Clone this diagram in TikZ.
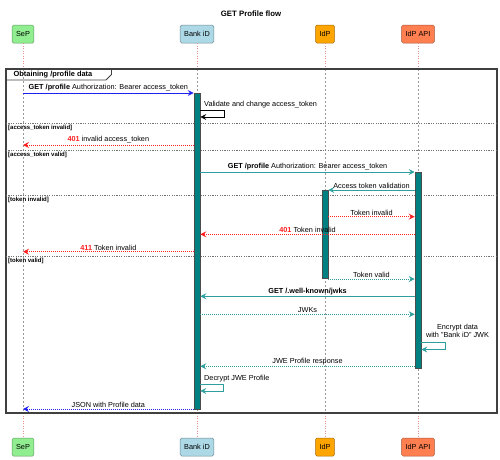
\documentclass[tikz,border=0pt]{standalone}
\usepackage{fontspec}
\setmainfont{Liberation Sans}
\usetikzlibrary{arrows.meta}
\definecolor{sepc}{HTML}{90EE90}
\definecolor{bankc}{HTML}{ADD8E6}
\definecolor{idpc}{HTML}{FFA500}
\definecolor{apic}{HTML}{FF7F50}
\definecolor{tealc}{HTML}{008080}
\definecolor{tealline}{HTML}{2E9E9E}
\definecolor{msgblue}{HTML}{2020F0}
\definecolor{msgred}{HTML}{FF2020}
\definecolor{lifepink}{HTML}{E89090}
\begin{document}
\begin{tikzpicture}[x=1pt,y=-1pt,
  font=\fontsize{7.3}{8.6}\selectfont,
  part/.style={draw=#1!65!black, fill=#1, rounded corners=1.5pt, minimum height=18pt, inner xsep=4pt, line width=0.5pt},
  act/.style={draw=black!70, fill=tealc, minimum width=6pt, inner sep=0pt, line width=0.6pt},
  lifein/.style={draw=black!40, dash pattern=on 2pt off 2pt, line width=0.6pt},
  lifeout/.style={draw=lifepink, dash pattern=on 1pt off 1.5pt, line width=0.6pt},
  tip/.style={-{Stealth[length=6pt,width=6pt,inset=2.2pt,sep=0pt]}},
  solidmsg/.style={tip, line width=0.8pt},
  dotmsg/.style={tip, line width=0.8pt, dash pattern=on 1pt off 1pt},
  lbl/.style={above, inner sep=1.2pt},
  seplbl/.style={anchor=west, font=\fontsize{6}{7}\selectfont\bfseries, inner sep=0pt},
  sepline/.style={draw=black!55, dash pattern=on 1.2pt off 1.2pt, line width=0.6pt},
  ]
\useasboundingbox (0,0) rectangle (500,459);

\node[font=\fontsize{7.8}{9}\selectfont\bfseries] (title) at (251,14) {GET Profile flow};

% participants
\node[part=sepc]  (sepT)  at (23,34)  {SeP};
\node[part=bankc] (bankT) at (197,34) {Bank iD};
\node[part=idpc]  (idpT)  at (325,34) {IdP};
\node[part=apic]  (apiT)  at (418,34) {IdP API};
\node[part=sepc]  (sepB)  at (23,447)  {SeP};
\node[part=bankc] (bankB) at (197,447) {Bank iD};
\node[part=idpc]  (idpB)  at (325,447) {IdP};
\node[part=apic]  (apiB)  at (418,447) {IdP API};

% frame corners
\coordinate (frTL) at (6,69);
\coordinate (frBR) at (497,413);

% lifelines
\foreach \p in {sep,bank,idp,api}{
  \draw[lifeout] (\p T.south) -- (\p T.south |- frTL);
  \draw[lifein] (\p T.south |- frTL) -- (\p B.north |- frBR);
  \draw[lifeout] (\p B.north |- frBR) -- (\p B.north);
}

% frame
\draw[black!75, line width=1.2pt] (frTL) rectangle (frBR);
\node[anchor=west, font=\fontsize{7.4}{8.5}\selectfont\bfseries, inner sep=0pt] (frlbl) at (13.5,74.8) {Obtaining /profile data};
\draw[black!75, line width=0.8pt] (6,80) -- (106,80) -- (111.5,74.5) -- (111.5,69);

% separators
\draw[sepline] (6,123.3) -- (497,123.3);
\node[seplbl] (s1) at (8,127.5) {[access\_token invalid]};
\draw[sepline] (6,150.3) -- (497,150.3);
\node[seplbl] (s2) at (8,154.5) {[access\_token valid]};
\draw[sepline] (6,195) -- (497,195);
\node[seplbl] (s3) at (8,199.5) {[token invalid]};
\draw[sepline] (6,256.5) -- (497,256.5);
\node[seplbl] (s4) at (8,261) {[token valid]};

% activations
\node[act, minimum height=316pt, anchor=north] (actB) at (197,93) {};
\node[act, minimum height=196pt, anchor=north] (actA) at (418,172) {};
\node[act, minimum height=88pt, anchor=north] (actI) at (325,190) {};

% messages
\draw[solidmsg, msgblue] (sepT |- 0,93) -- (actB.west |- 0,93)
  node[lbl, midway, text=black] {\textbf{GET /profile} Authorization: Bearer access\_token};

\draw[tip, line width=0.7pt, black] (actB.east |- 0,110.5) -- (224,110.5) -- (224,117) -- (actB.east |- 0,117);
\node[anchor=west, inner sep=0pt] (l2) at (204,104.5) {Validate and change access\_token};

\draw[dotmsg, msgred] (actB.west |- 0,145) -- (sepT |- 0,145)
  node[lbl, midway, text=black] {\textcolor{msgred}{\textbf{401}} invalid access\_token};

\draw[solidmsg, tealline] (actB.east |- 0,172) -- (actA.west |- 0,172)
  node[lbl, midway, text=black] {\textbf{GET /profile} Authorization: Bearer access\_token};

\draw[solidmsg, tealline] (actA.west |- 0,190) -- (actI.east |- 0,190)
  node[lbl, midway, text=black] {Access token validation};

\draw[dotmsg, msgred] (actI.east |- 0,216.7) -- (actA.west |- 0,216.7)
  node[lbl, midway, text=black] {Token invalid};

\draw[dotmsg, msgred] (actA.west |- 0,234.3) -- (actB.east |- 0,234.3)
  node[lbl, midway, text=black] {\textcolor{msgred}{\textbf{401}} Token invalid};

\draw[dotmsg, msgred] (actB.west |- 0,251.7) -- (sepT |- 0,251.7)
  node[lbl, midway, text=black] {\textcolor{msgred}{\textbf{411}} Token invalid};

\draw[dotmsg, tealline] (actI.east |- 0,279) -- (actA.west |- 0,279)
  node[lbl, midway, text=black] {Token valid};

\draw[solidmsg, tealline] (actA.west |- 0,296.3) -- (actB.east |- 0,296.3)
  node[lbl, midway, text=black] {\textbf{GET /.well-known/jwks}};

\draw[dotmsg, tealline] (actB.east |- 0,314.3) -- (actA.west |- 0,314.3)
  node[lbl, midway, text=black] {JWKs};

\node[align=center, inner sep=0pt] (l16) at (457.5,331) {Encrypt data\\with "Bank iD" JWK};
\draw[tip, line width=0.7pt, tealline] (actA.east |- 0,342.5) -- (445,342.5) -- (445,349.5) -- (actA.east |- 0,349.5);

\draw[dotmsg, tealline] (actA.west |- 0,366.3) -- (actB.east |- 0,366.3)
  node[lbl, midway, text=black] {JWE Profile response};

\node[anchor=west, inner sep=0pt] (l18) at (204,378.5) {Decrypt JWE Profile};
\draw[tip, line width=0.7pt, tealline] (actB.east |- 0,384) -- (223,384) -- (223,391) -- (actB.east |- 0,391);

\draw[dotmsg, msgblue] (actB.west |- 0,409) -- (sepT |- 0,409)
  node[lbl, midway, text=black] {JSON with Profile data};
\end{tikzpicture}
\end{document}
